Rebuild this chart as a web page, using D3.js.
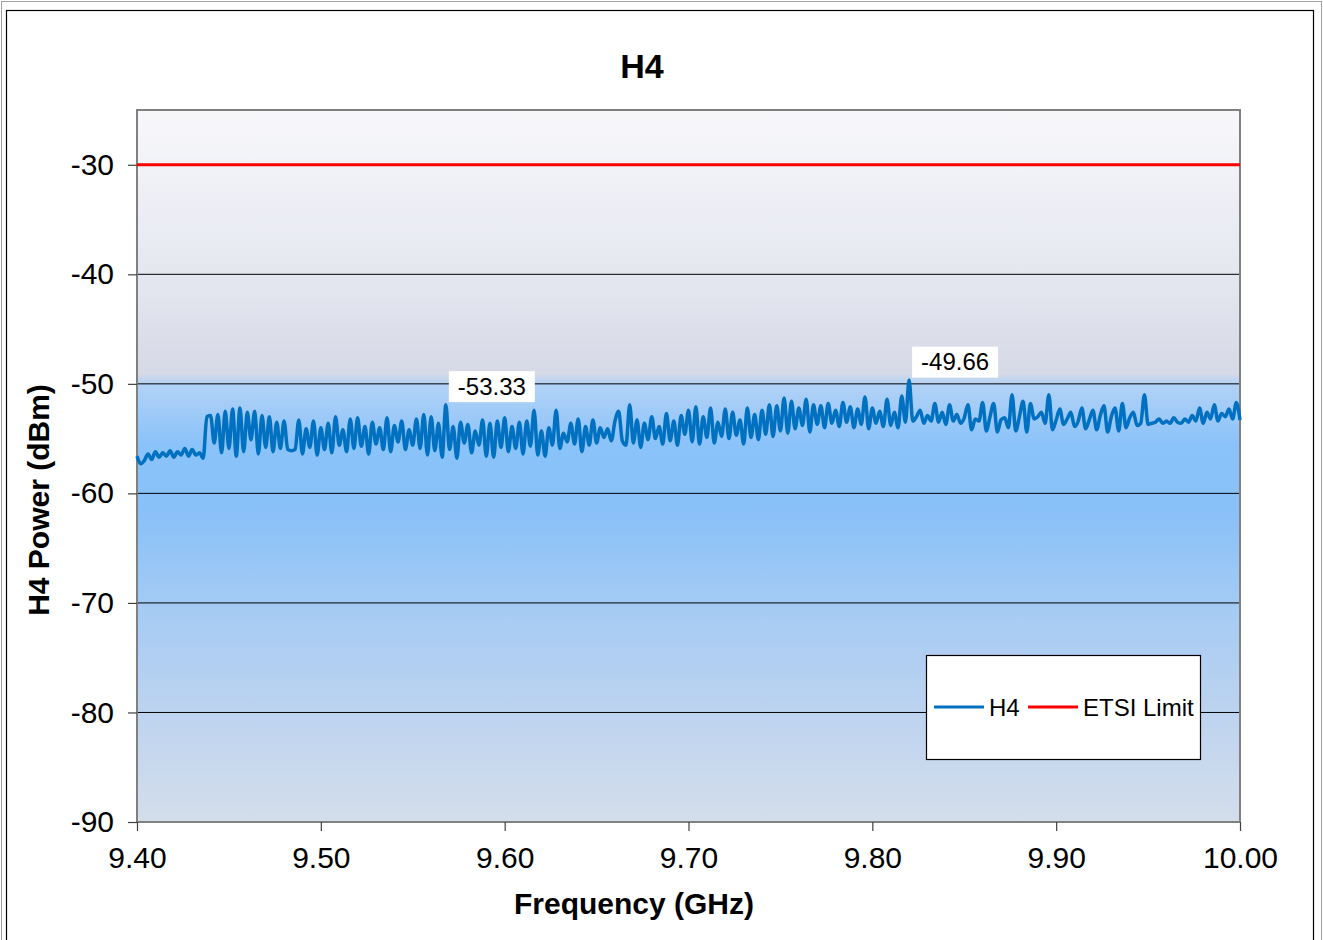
<!DOCTYPE html>
<html>
<head>
<meta charset="utf-8">
<script src="https://cdn.jsdelivr.net/npm/d3@7"></script>
<style>
body { margin: 0; background: #fff; }
text { font-family: "Liberation Sans", Arial, sans-serif; }
</style>
</head>
<body>
<svg id="chart" width="1323" height="940"></svg>
<script>
// H4 sweep, one reading every 2 MHz from 9.400 to 10.000 GHz
startFreq = 9.40;
stepFreq = 0.002;
h4Power = [
    -56.6, -57.3, -57.0, -56.4, -56.9, -56.2, -56.7, -56.3, -56.6, -56.1,
    -56.7, -56.2, -56.5, -55.9, -56.6, -56.0, -56.5, -56.3, -56.8, -53.0,
    -52.9, -55.4, -52.8, -56.3, -52.5, -55.9, -52.3, -56.6, -52.2, -56.2,
    -52.6, -55.1, -52.5, -56.4, -52.9, -55.8, -53.0, -56.2, -53.5, -55.9,
    -53.4, -56.0, -56.1, -56.0, -53.3, -56.4, -54.1, -55.8, -53.4, -56.5,
    -54.0, -56.0, -53.6, -56.3, -53.0, -55.6, -54.2, -56.2, -53.2, -55.9,
    -53.1, -55.7, -53.9, -56.4, -53.5, -55.5, -54.0, -56.0, -53.1, -56.2,
    -53.8, -55.3, -53.4, -56.0, -54.2, -55.6, -53.2, -55.9, -52.8, -56.5,
    -53.0, -56.1, -53.6, -56.7, -51.9, -56.0, -53.9, -56.8, -53.5, -55.4,
    -53.7, -56.3, -54.3, -55.6, -53.3, -56.6, -53.6, -56.7, -53.4, -55.8,
    -53.1, -56.2, -53.9, -55.9, -53.5, -56.4, -53.4, -55.7, -52.4, -56.5,
    -54.3, -56.6, -54.0, -55.6, -52.4, -55.9, -54.5, -55.3, -53.6, -55.5,
    -53.2, -56.2, -53.9, -55.6, -53.3, -55.4, -54.0, -54.9, -54.1, -55.2,
    -53.4, -52.5, -55.2, -55.6, -51.9, -55.4, -53.3, -55.8, -53.6, -55.1,
    -53.0, -55.0, -53.9, -55.5, -52.7, -55.2, -53.4, -55.6, -52.9, -54.6,
    -52.4, -55.3, -52.1, -55.5, -53.0, -54.9, -52.2, -55.4, -53.5, -54.8,
    -52.3, -55.0, -52.6, -54.7, -53.3, -55.5, -52.2, -54.9, -52.8, -55.1,
    -52.4, -54.6, -51.9, -54.8, -52.0, -54.3, -51.3, -54.5, -51.6, -54.1,
    -52.2, -53.8, -51.4, -54.4, -51.9, -53.7, -52.0, -54.0, -51.8, -53.6,
    -52.4, -53.9, -51.7, -53.5, -52.1, -54.0, -52.3, -53.7, -51.2, -54.1,
    -52.2, -53.6, -52.5, -53.9, -51.4, -53.8, -52.6, -54.0, -51.1, -53.5,
    -49.66, -53.4, -53.0, -52.4, -53.6, -52.9, -53.4, -51.8, -53.5, -52.6,
    -53.7, -51.9, -53.4, -52.8, -53.6, -53.1, -51.9, -54.2, -53.2, -53.4,
    -51.7, -54.3, -53.0, -51.8, -54.4, -53.3, -53.1, -54.0, -51.0, -54.3,
    -53.0, -51.6, -54.4, -51.8, -53.2, -53.0, -52.6, -53.6, -51.0, -54.2,
    -53.3, -52.3, -53.7, -53.2, -52.6, -53.9, -53.4, -52.2, -54.1, -53.3,
    -52.4, -54.2, -52.9, -52.0, -54.4, -53.0, -52.2, -54.3, -51.8, -54.0,
    -53.1, -52.6, -53.8, -53.6, -51.0, -53.7, -53.6, -53.5, -53.2, -53.6,
    -53.4, -53.6, -53.1, -53.5, -53.6, -53.2, -53.5, -52.9, -53.4, -52.2,
    -53.6, -52.6, -53.2, -51.9, -53.4, -52.7, -53.0, -52.3, -53.2, -51.7,
    -53.3
];
etsiLimit = -30;
xTicks = [9.40, 9.50, 9.60, 9.70, 9.80, 9.90, 10.00];
yTicks = [-30, -40, -50, -60, -70, -80, -90];
// data labels: index into h4Power and the text shown
pointLabels = [
    {index: 84, text: "-53.33"},
    {index: 210, text: "-49.66"}
];
legendItems = [
    {name: "H4", color: "#0070c0"},
    {name: "ETSI Limit", color: "#ff0000"}
];

h4Data = h4Power.map((p, i) => ({f: startFreq + i * stepFreq, p: p}));

svg = d3.select("#chart");
left = 137; right = 1240; top_ = 110; bottom = 822;

x = d3.scaleLinear().domain([9.40, 10.00]).range([left, right]);
y = d3.scaleLinear().domain([-90, -25]).range([bottom, top_]);

// outer frames
svg.append("rect").attr("x", 1.5).attr("y", 1.5).attr("width", 1320).attr("height", 950)
    .attr("fill", "none").attr("stroke", "#a0a0a0").attr("stroke-width", 1);
svg.append("rect").attr("x", 6.5).attr("y", 10.5).attr("width", 1307).attr("height", 950)
    .attr("fill", "#fff").attr("stroke", "#000").attr("stroke-width", 1.2);

// plot background gradient
grad = svg.append("defs").append("linearGradient")
    .attr("id", "bg").attr("x1", 0).attr("y1", 0).attr("x2", 0).attr("y2", 1);
[[0, "#f8f8fb"], [0.23, "#e5e7f0"], [0.37, "#d6d9e6"], [0.385, "#b2d2f6"],
 [0.47, "#8ac2fa"], [0.56, "#88c0f8"], [0.7, "#a5cbf4"], [0.86, "#bfd4ef"], [1, "#d4deeb"]]
    .forEach(s => grad.append("stop").attr("offset", s[0]).attr("stop-color", s[1]));

svg.append("rect").attr("x", left).attr("y", top_)
    .attr("width", right - left).attr("height", bottom - top_)
    .attr("fill", "url(#bg)");

// gridlines
svg.append("g").selectAll("line")
    .data(yTicks.filter(t => t > -90 && t < -30))
    .enter().append("line")
    .attr("x1", left).attr("x2", right)
    .attr("y1", d => y(d)).attr("y2", d => y(d))
    .attr("stroke", "#000").attr("stroke-width", 1);

// plot border
svg.append("rect").attr("x", left).attr("y", top_)
    .attr("width", right - left).attr("height", bottom - top_)
    .attr("fill", "none").attr("stroke", "#808080").attr("stroke-width", 2);

// axes (plain hyphen minus, like the original)
yAxis = svg.append("g").attr("transform", `translate(${left},0)`)
    .call(d3.axisLeft(y).tickValues(yTicks).tickFormat(d => String(d)).tickSize(9).tickPadding(14));
xAxis = svg.append("g").attr("transform", `translate(0,${bottom})`)
    .call(d3.axisBottom(x).tickValues(xTicks).tickFormat(d => d.toFixed(2)).tickSize(9).tickPadding(16));
[yAxis, xAxis].forEach(a => {
    a.select(".domain").remove();
    a.selectAll(".tick line").attr("stroke", "#404040").attr("stroke-width", 1.2);
    a.selectAll(".tick text").attr("font-size", 30).attr("fill", "#000")
        .attr("font-family", "'Liberation Sans', Arial, sans-serif");
});

// ETSI limit
svg.append("line")
    .attr("x1", left).attr("x2", right)
    .attr("y1", y(etsiLimit)).attr("y2", y(etsiLimit))
    .attr("stroke", "#ff0000").attr("stroke-width", 3);

// H4 trace
line = d3.line().x(d => x(d.f)).y(d => y(d.p)).curve(d3.curveMonotoneX);
svg.append("path").datum(h4Data)
    .attr("d", line)
    .attr("fill", "none")
    .attr("stroke", "#0070c0")
    .attr("stroke-width", 3.5)
    .attr("stroke-linejoin", "round");

// point labels
labels = svg.append("g").selectAll("g")
    .data(pointLabels)
    .enter().append("g")
    .attr("transform", d => `translate(${x(h4Data[d.index].f) + 3},${y(h4Data[d.index].p) - 18})`);
labels.append("rect").attr("x", 0).attr("y", -15.5).attr("width", 86).attr("height", 31).attr("fill", "#fff");
labels.append("text").attr("x", 43).attr("y", 8).attr("text-anchor", "middle")
    .attr("font-size", 24).text(d => d.text);

// title and axis titles
svg.append("text").attr("x", 642).attr("y", 78).attr("text-anchor", "middle")
    .attr("font-size", 34).attr("font-weight", "bold").text("H4");
svg.append("text").attr("x", 634).attr("y", 914).attr("text-anchor", "middle")
    .attr("font-size", 30).attr("font-weight", "bold").text("Frequency (GHz)");
svg.append("text").attr("transform", "translate(49,500) rotate(-90)").attr("text-anchor", "middle")
    .attr("font-size", 30).attr("font-weight", "bold").text("H4 Power (dBm)");

// legend
legend = svg.append("g").attr("transform", "translate(926,655)");
legend.append("rect").attr("x", 0.5).attr("y", 0.5).attr("width", 274).attr("height", 104)
    .attr("fill", "#fff").attr("stroke", "#000").attr("stroke-width", 1.2);
legendX = [8, 102];
items = legend.selectAll("g.item").data(legendItems).enter().append("g")
    .attr("class", "item")
    .attr("transform", (d, i) => `translate(${legendX[i]},52)`);
items.append("line").attr("x1", 0).attr("x2", 50).attr("y1", 0).attr("y2", 0)
    .attr("stroke", d => d.color).attr("stroke-width", 3);
items.append("text").attr("x", 55).attr("y", 9).attr("font-size", 24).text(d => d.name);
</script>
</body>
</html>
